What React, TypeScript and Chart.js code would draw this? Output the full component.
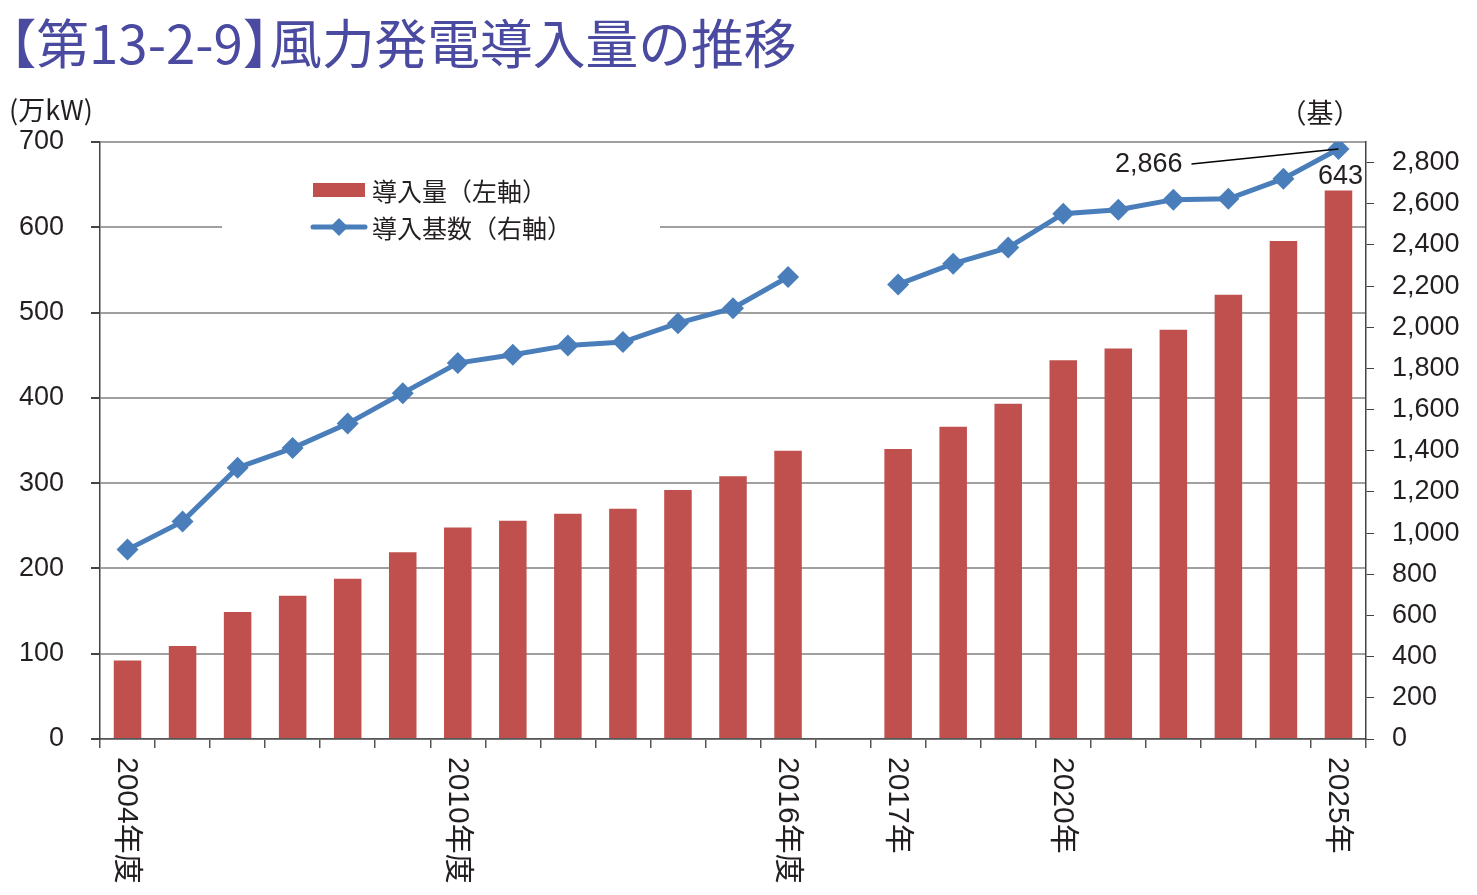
import React, { useEffect, useRef } from 'react';
import { Chart, registerables } from 'chart.js';

Chart.register(...registerables);

// 2004-2016 are fiscal years, then a blank slot, then calendar years 2017-2025
const categories = [
  '2004年度', '2005年度', '2006年度', '2007年度', '2008年度', '2009年度', '2010年度',
  '2011年度', '2012年度', '2013年度', '2014年度', '2015年度', '2016年度',
  '',
  '2017年', '2018年', '2019年', '2020年', '2021年', '2022年', '2023年', '2024年', '2025年',
];
const shownLabels = ['2004年度', '2010年度', '2016年度', '2017年', '2020年', '2025年'];

// 導入量 (万kW), left axis
const capacity = [
  92, 109, 149, 168, 188, 219, 248, 256, 264, 270, 292, 308, 338,
  null,
  340, 366, 393, 444, 458, 480, 521, 584, 643,
];
// 導入基数 (基), right axis
const turbines = [
  920, 1057, 1318, 1413, 1532, 1680, 1826, 1867, 1912, 1928, 2020, 2093, 2244,
  null,
  2208, 2309, 2387, 2552, 2571, 2620, 2624, 2722, 2866,
];

const leftMax = 700;
const leftStep = 100;
const rightMax = 2900;
const rightTicks = [0, 200, 400, 600, 800, 1000, 1200, 1400, 1600, 1800, 2000, 2200, 2400, 2600, 2800];

const RED = '#C0504D';
const BLUE = '#4A7EBB';
const TEXT = '#231F20';
const NUM_FONT = '"Liberation Sans", Arial, "Noto Sans CJK JP", sans-serif';
const JP_FONT = '"Noto Sans CJK JP", "Liberation Sans", sans-serif';

const extras = {
  id: 'extras',
  afterDraw(chart: Chart) {
    const { ctx, chartArea } = chart;
    const x = chart.scales.x;
    ctx.save();

    // unit labels
    ctx.fillStyle = TEXT;
    ctx.font = `27px ${JP_FONT}`;
    ctx.textBaseline = 'middle';
    ctx.textAlign = 'left';
    ctx.fillText('(万kW)', 9, 110);
    ctx.textAlign = 'center';
    ctx.fillText('（基）', chartArea.right - 46, 113);

    // rotated x labels, reading top to bottom
    ctx.font = `30px ${NUM_FONT}`;
    categories.forEach((c, i) => {
      if (!shownLabels.includes(c)) return;
      ctx.save();
      ctx.translate(x.getPixelForValue(i) - 1, x.top + 18);
      ctx.rotate(Math.PI / 2);
      ctx.textAlign = 'left';
      ctx.textBaseline = 'middle';
      ctx.fillText(c, 0, 0);
      ctx.restore();
    });

    // legend box
    const lx = chartArea.left + 122;
    ctx.fillStyle = '#fff';
    ctx.fillRect(lx, chartArea.top + 30, 438, 110);
    const sx = chartArea.left + 213;
    ctx.fillStyle = RED;
    ctx.fillRect(sx, 183, 52, 14);
    ctx.strokeStyle = BLUE;
    ctx.lineWidth = 5;
    ctx.lineCap = 'round';
    ctx.beginPath();
    ctx.moveTo(sx, 227);
    ctx.lineTo(sx + 52, 227);
    ctx.stroke();
    ctx.fillStyle = BLUE;
    ctx.beginPath();
    ctx.moveTo(sx + 26, 218);
    ctx.lineTo(sx + 35, 227);
    ctx.lineTo(sx + 26, 236);
    ctx.lineTo(sx + 17, 227);
    ctx.closePath();
    ctx.fill();
    ctx.fillStyle = TEXT;
    ctx.font = `25px ${JP_FONT}`;
    ctx.textAlign = 'left';
    ctx.textBaseline = 'middle';
    ctx.fillText(chart.data.datasets[0].label as string, sx + 59, 191);
    ctx.fillText(chart.data.datasets[1].label as string, sx + 59, 228);

    // value labels for the last year
    const last = categories.length - 1;
    const bar = chart.getDatasetMeta(0).data[last];
    const pt = chart.getDatasetMeta(1).data[last];
    ctx.font = `27px ${NUM_FONT}`;
    ctx.textAlign = 'center';
    ctx.textBaseline = 'bottom';
    ctx.fillText(String(capacity[last]), bar.x + 2, bar.y - 1);

    ctx.textAlign = 'right';
    ctx.textBaseline = 'middle';
    ctx.fillText((turbines[last] as number).toLocaleString('en-US'), pt.x - 156, pt.y + 16);
    ctx.strokeStyle = '#000';
    ctx.lineWidth = 1.5;
    ctx.lineCap = 'butt';
    ctx.beginPath();
    ctx.moveTo(pt.x - 147, pt.y + 15);
    ctx.lineTo(pt.x - 20, pt.y + 2);
    ctx.lineTo(pt.x, pt.y);
    ctx.stroke();

    ctx.restore();
  },
};

function WindChart(): React.JSX.Element {
  const canvasRef = useRef<HTMLCanvasElement | null>(null);

  useEffect(() => {
    if (!canvasRef.current) return;
    const chart = new Chart(canvasRef.current, {
      type: 'bar',
      data: {
        labels: categories,
        datasets: [
          {
            type: 'bar',
            label: '導入量（左軸）',
            data: capacity,
            backgroundColor: RED,
            yAxisID: 'y',
            barPercentage: 0.5,
            categoryPercentage: 1,
            order: 2,
          },
          {
            type: 'line',
            label: '導入基数（右軸）',
            data: turbines,
            borderColor: BLUE,
            backgroundColor: BLUE,
            borderWidth: 5,
            pointStyle: 'rectRot',
            pointRadius: 11,
            pointBorderWidth: 0,
            spanGaps: false,
            tension: 0,
            yAxisID: 'y1',
            order: 1,
          },
        ],
      },
      options: {
        responsive: false,
        animation: false,
        layout: { padding: { top: 142, left: 0, right: 0, bottom: 0 } },
        plugins: {
          legend: { display: false },
          tooltip: { enabled: false },
        },
        scales: {
          x: {
            grid: {
              offset: true,
              drawOnChartArea: false,
              tickLength: 9,
              tickColor: '#555',
              lineWidth: 1.5,
            },
            border: { color: '#555', width: 1.5 },
            ticks: { display: false, autoSkip: false },
            afterFit: (s) => {
              s.height = 156;
            },
          },
          y: {
            position: 'left',
            min: 0,
            max: leftMax,
            grid: { color: '#A0A0A0', lineWidth: 2, tickLength: 9, tickColor: '#444' },
            border: { color: '#444', width: 1.5 },
            ticks: {
              stepSize: leftStep,
              padding: 27,
              color: TEXT,
              font: { family: NUM_FONT, size: 27 },
            },
            afterFit: (s) => {
              s.width = 100;
            },
          },
          y1: {
            position: 'right',
            min: 0,
            max: rightMax,
            grid: { drawOnChartArea: false, tickLength: 8, tickColor: '#444' },
            border: { color: '#444', width: 1.5 },
            ticks: {
              padding: 18,
              color: TEXT,
              font: { family: NUM_FONT, size: 27 },
              callback: (v) => Number(v).toLocaleString('en-US'),
            },
            afterBuildTicks: (s) => {
              s.ticks = rightTicks.map((value) => ({ value }));
            },
            afterFit: (s) => {
              s.width = 111;
            },
          },
        },
      },
      plugins: [extras],
    });
    return () => chart.destroy();
  }, []);

  return <canvas ref={canvasRef} width={1477} height={895} style={{ position: 'absolute', left: 0, top: 0 }} />;
}

export default function App(): React.JSX.Element {
  return (
    <div style={{ position: 'absolute', left: 0, top: 0, width: 1477, height: 895, background: '#fff' }}>
      <WindChart />
      <div
        style={{
          position: 'absolute',
          left: 10,
          top: 8,
          fontFamily: JP_FONT,
          fontWeight: 400,
          fontSize: 53,
          lineHeight: '66px',
          color: '#4A4AA0',
          whiteSpace: 'nowrap',
          transform: 'scaleX(0.995)',
          transformOrigin: 'left center',
        }}
      >
        <span style={{ marginLeft: '-0.5em' }}>【</span>第13-2-9<span style={{ marginRight: '-0.5em' }}>】</span>
        風力発電導入量の推移
      </div>
    </div>
  );
}
